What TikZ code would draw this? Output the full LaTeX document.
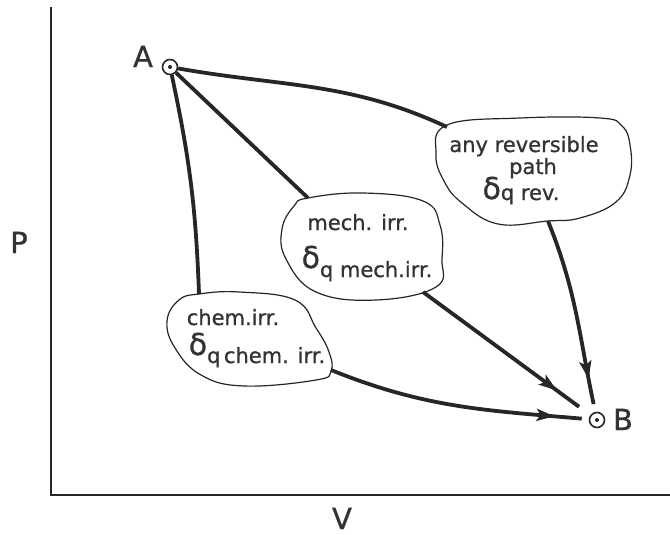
\documentclass[tikz,border=0pt]{standalone}
\usepackage{fontspec}
\setmainfont{DejaVu Sans}[FakeBold=0.9]
\usetikzlibrary{arrows.meta,decorations.markings}
\begin{document}
\begin{tikzpicture}[x=1pt,y=-1pt,
  ink/.style={draw=black!85, line width=3.8pt},
  axisline/.style={draw=black!85, line width=2.2pt},
  blob/.style={draw=black!85, line width=1.2pt, fill=white},
  lbl/.style={font=\fontsize{21}{21}\selectfont, text=black!80, inner sep=0pt, anchor=base},
  big/.style={font=\fontsize{29}{29}\selectfont, text=black!80, inner sep=0pt, anchor=base},
  statept/.style={circle, draw=black!85, line width=1.6pt, minimum size=15pt, inner sep=0pt, fill=white},
  arrowat/.style={postaction={decorate}, decoration={markings, mark=at position #1 with {\arrow{Stealth[length=18pt,width=12pt,inset=4pt]}}}}
]
\useasboundingbox (0,0) rectangle (670,535);
\newcommand\bigdelta[1]{\raisebox{#1}{\fontsize{30}{30}\selectfont δ}}

% axes
\coordinate (top) at (51,7);
\coordinate (origin) at (51,495);
\coordinate (right) at (670,495);
\draw[axisline] (top) -- (origin) -- (right);
\node[big] (P) at (19,253) {P};
\node[big] (V) at (342,529) {V};

% states
\node[statept] (A) at (170,67) {};
\fill[black!85] (A) circle (2pt);
\node[big] (Alab) at (143,67) {A};
\node[statept] (B) at (597,420) {};
\fill[black!85] (B) circle (2pt);
\node[big] (Blab) at (623,430) {B};

% blobs
\draw[blob] plot[smooth cycle, tension=0.7] coordinates {
  (447,125) (520,118) (600,118) (622,126) (630,145) (630,175) (616,202)
  (580,218) (548,221) (498,224) (462,203) (444,181) (436,154)};
\draw[blob] plot[smooth cycle, tension=0.7] coordinates {
  (308,198) (363,193) (423,201) (440,225) (442,259) (436,287)
  (376,300) (316,292) (286,259) (282,229) (294,206)};
\draw[blob] plot[smooth cycle, tension=0.7] coordinates {
  (199,294) (239,292) (295,300) (316,328) (329,352) (331,371)
  (316,380) (244,386) (201,375) (175,348) (167,321) (179,300)};

% attachment points on blobs
\coordinate (revIn) at (447,127);
\coordinate (revOut) at (548,221);
\coordinate (mechIn) at (308,198);
\coordinate (mechOut) at (423,292);
\coordinate (chemIn) at (199,294);
\coordinate (chemOut) at (331,370);

% texts
\node[lbl] (r1) at (524,152) {any reversible};
\node[lbl] (r2) at (533,174) {path};
\node[lbl] (r3) at (521,200) {\bigdelta{1pt}q rev.};
\node[lbl] (m1) at (358,230) {mech. irr.};
\node[lbl] (m2) at (367,277) {\bigdelta{9pt}q mech.irr.};
\node[lbl] (c1) at (233,325) {chem.irr.};
\node[lbl] (c2) at (257,363) {\bigdelta{8pt}q\,chem. irr.};

% connectors
\draw[ink] (A) to[out=-10,in=155] (revIn);
\draw[ink, arrowat=0.83, shorten >=8pt] (revOut) to[out=-68,in=102] (B);
\draw[ink] (A) -- (mechIn);
\draw[ink, arrowat=0.8, shorten >=14pt] (mechOut) -- (B);
\draw[ink] (A) to[bend left=5] (chemIn);
\draw[ink, arrowat=0.87, shorten >=7pt] (chemOut) to[out=-22,in=175] (B);
\end{tikzpicture}
\end{document}
